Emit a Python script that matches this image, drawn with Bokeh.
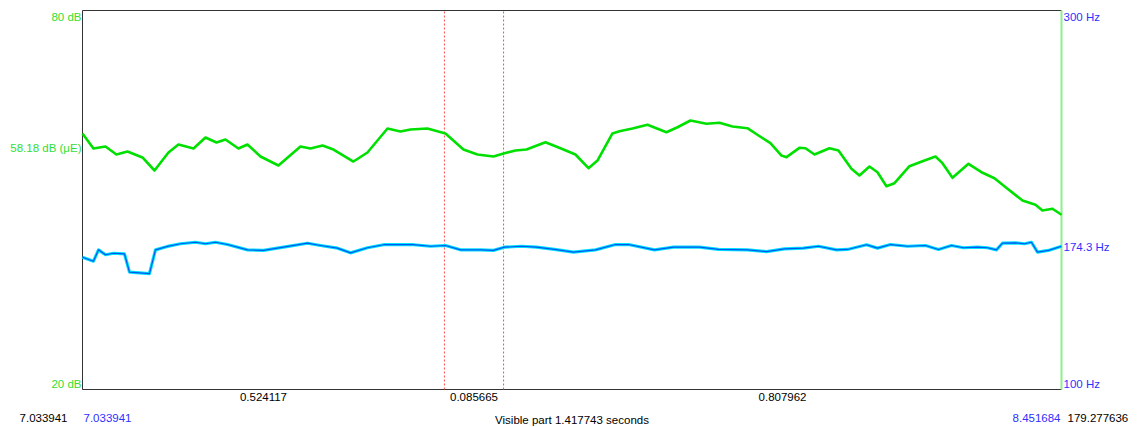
from bokeh.plotting import figure
from bokeh.models import Range1d, Label
from bokeh.embed import file_html
from bokeh.resources import INLINE

# ---- data ----
t_start = 7.033941
t_end = 8.451684
cursor1 = 7.558058
cursor2 = 7.643723
seg_labels = ["0.524117", "0.085665", "0.807962"]
total_label = "179.277636"
db_min, db_max = 20, 80
hz_min, hz_max = 100, 300
mean_db = 58.18
cur_hz = 174.3

int_t = [7.0339, 7.0498, 7.0672, 7.0831, 7.0991, 7.1208, 7.1382, 7.1584, 7.1729, 7.1947,
         7.2120, 7.2280, 7.2410, 7.2598, 7.2728, 7.2917, 7.3177, 7.3496, 7.3641, 7.3815,
         7.3974, 7.4263, 7.4466, 7.4756, 7.4944, 7.5089, 7.5335, 7.5596, 7.5856, 7.6059,
         7.6291, 7.6450, 7.6609, 7.6769, 7.7044, 7.7261, 7.7478, 7.7667, 7.7797, 7.8014,
         7.8116, 7.8304, 7.8521, 7.8796, 7.8956, 7.9144, 7.9376, 7.9564, 7.9752, 7.9969,
         8.0129, 8.0302, 8.0462, 8.0534, 8.0722, 8.0809, 8.0940, 8.1157, 8.1287, 8.1475,
         8.1591, 8.1736, 8.1852, 8.1982, 8.2098, 8.2315, 8.2504, 8.2692, 8.2793, 8.2938,
         8.3170, 8.3358, 8.3546, 8.3735, 8.3952, 8.4140, 8.4241, 8.4386, 8.4517]
int_db = [60.53, 58.15, 58.47, 57.20, 57.68, 56.73, 54.67, 57.52, 58.79, 58.15,
          59.89, 59.10, 59.58, 58.15, 58.79, 56.89, 55.46, 58.47, 58.15, 58.63,
          57.99, 56.09, 57.52, 61.32, 60.84, 61.16, 61.32, 60.53, 57.99, 57.20,
          56.89, 57.41, 57.84, 57.99, 59.15, 58.20, 57.20, 55.03, 56.25, 60.53,
          60.89, 61.32, 61.90, 60.73, 61.52, 62.59, 62.06, 62.22, 61.64, 61.37,
          60.21, 58.99, 57.04, 56.78, 58.26, 58.20, 57.20, 58.20, 57.84, 54.94,
          53.88, 55.30, 54.40, 52.18, 52.66, 55.35, 56.14, 56.89, 55.83, 53.51,
          55.73, 54.40, 53.45, 51.77, 49.92, 49.24, 48.34, 48.61, 47.66]

f0_t = [7.0339, 7.0498, 7.0571, 7.0672, 7.0788, 7.0947, 7.1020, 7.1309, 7.1396, 7.1570,
        7.1758, 7.1975, 7.2120, 7.2265, 7.2439, 7.2728, 7.2960, 7.3250, 7.3597, 7.3786,
        7.4032, 7.4220, 7.4466, 7.4698, 7.5132, 7.5379, 7.5596, 7.5813, 7.6103, 7.6291,
        7.6450, 7.6696, 7.6914, 7.7174, 7.7449, 7.7768, 7.8058, 7.8246, 7.8622, 7.8898,
        7.9274, 7.9549, 7.9969, 8.0244, 8.0505, 8.0780, 8.0997, 8.1258, 8.1417, 8.1693,
        8.1852, 8.2040, 8.2286, 8.2547, 8.2735, 8.2923, 8.3097, 8.3300, 8.3445, 8.3575,
        8.3662, 8.3850, 8.3981, 8.4082, 8.4169, 8.4328, 8.4517]
f0_hz = [169.8, 167.7, 173.7, 171.1, 171.9, 171.6, 161.9, 161.1, 173.7, 175.5,
         176.9, 177.7, 176.9, 177.7, 176.5, 173.7, 173.4, 175.1, 177.2, 176.0,
         174.6, 172.1, 174.8, 176.4, 176.4, 175.6, 176.0, 173.7, 173.7, 173.4,
         175.1, 175.6, 175.1, 173.9, 172.5, 173.7, 176.5, 176.5, 173.7, 175.1,
         175.1, 173.9, 173.7, 172.8, 174.2, 174.6, 175.6, 173.7, 173.9, 176.4,
         174.6, 176.5, 175.6, 176.0, 173.9, 176.0, 174.8, 175.1, 174.8, 173.7,
         177.2, 177.4, 176.9, 177.7, 172.5, 173.4, 175.6]

# ---- layout (pixels of the drawing area inside the 1139x427 canvas) ----
W, H = 1139, 427
ML, MR, MT, MB = 82, 78, 10, 38
fw, fh = W - ML - MR, H - MT - MB
sx = (t_end - t_start) / fw
sdb = (db_max - db_min) / fh
shz = (hz_max - hz_min) / fh

p = figure(width=W, height=H, output_backend="svg", toolbar_location=None,
           x_range=Range1d(t_start - ML * sx, t_end + MR * sx),
           y_range=Range1d(db_min - MB * sdb, db_max + MT * sdb),
           x_axis_location=None, y_axis_location=None,
           min_border=0)
p.extra_y_ranges = {"pitch": Range1d(hz_min - MB * shz, hz_max + MT * shz)}
p.xgrid.visible = False
p.ygrid.visible = False
p.outline_line_color = None
p.background_fill_color = "white"
p.border_fill_color = "white"

GREEN_TXT = "#33dd33"
BLUE_TXT = "#3030ff"
FONT = "Liberation Sans"
FS = "11.5px"

# frame
p.segment(x0=[t_start, t_start, t_start], y0=[db_min, db_max, db_min],
          x1=[t_start, t_end, t_end], y1=[db_max, db_max, db_min],
          line_color="#333333", line_width=1)
# cursors
p.segment(x0=[cursor1, cursor2], y0=[db_min, db_min], x1=[cursor1, cursor2], y1=[db_max, db_max],
          line_color="#ff4d4d", line_dash="2 2", line_width=1)
# right border green
p.segment(x0=[t_end], y0=[db_min], x1=[t_end], y1=[db_max], line_color="#8cf08c", line_width=2)

# intensity
p.line(int_t, int_db, line_color="#00e000", line_width=2.6, line_join="round")
# pitch
p.line(f0_t, f0_hz, y_range_name="pitch", line_color="#00e0ff", line_width=3.2, line_join="round")
p.line(f0_t, f0_hz, y_range_name="pitch", line_color="#0058f0", line_width=1.2, line_join="round")

def lab(x, y, text, color, align="left", baseline="middle", xo=0, yo=0, yr="default"):
    p.add_layout(Label(x=x, y=y, text=text, text_color=color, text_align=align,
                       text_baseline=baseline, x_offset=xo, y_offset=yo,
                       text_font=FONT, text_font_size=FS, y_range_name=yr))

# left intensity labels
lab(t_start, db_max, "80 dB", GREEN_TXT, "right", "top", xo=-1)
lab(t_start, mean_db, "%.2f dB (\u03bcE)" % mean_db, GREEN_TXT, "right", "middle", xo=-1)
lab(t_start, db_min, "20 dB", GREEN_TXT, "right", "bottom", xo=-1)
# right pitch labels
lab(t_end, hz_max, "300 Hz", BLUE_TXT, "left", "top", xo=2, yr="pitch")
lab(t_end, cur_hz, "%.1f Hz" % cur_hz, BLUE_TXT, "left", "middle", xo=2, yo=2, yr="pitch")
lab(t_end, hz_min, "100 Hz", BLUE_TXT, "left", "bottom", xo=2, yr="pitch")

# segment durations
bounds = [t_start, cursor1, cursor2, t_end]
for i, s in enumerate(seg_labels):
    lab((bounds[i] + bounds[i + 1]) / 2, db_min, s, "black", "center", "top", yo=-3)

# bottom row
lab(t_start, db_min, "%.6f" % t_start, "black", "right", "top", xo=-15, yo=-24)
lab(t_start, db_min, "%.6f" % t_start, BLUE_TXT, "left", "top", xo=1, yo=-24)
lab((t_start + t_end) / 2, db_min, "Visible part %.6f seconds" % (t_end - t_start), "black",
    "center", "top", yo=-24)
lab(t_end, db_min, "%.6f" % t_end, BLUE_TXT, "right", "top", xo=-1, yo=-24)
lab(t_end, db_min, total_label, "black", "left", "top", xo=6, yo=-24)

open("out.html", "w").write(file_html(p, INLINE))
